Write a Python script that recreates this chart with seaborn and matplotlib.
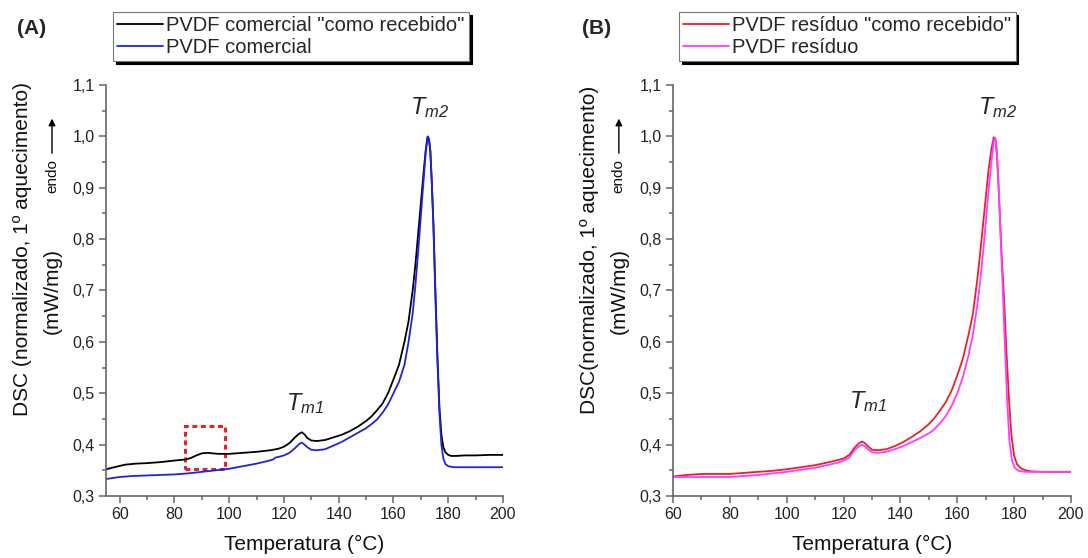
import pandas as pd
import matplotlib.pyplot as plt
import seaborn as sns
from matplotlib.patches import Rectangle
from matplotlib.ticker import MultipleLocator, FuncFormatter

# (A) commercial PVDF, "as received" (black)
temp_com_rec = [55, 58, 62, 66, 70, 75, 80, 84, 86, 88, 90, 92, 94, 96, 100, 105, 110, 115, 118,
                120, 122, 124, 125.5, 126.5, 127.5, 128.5, 130, 132, 135, 138, 141, 144, 147, 150,
                152, 154, 156, 158, 160, 162, 164, 165.5, 167, 168, 169, 170, 171, 171.8, 172.4,
                172.9, 173.4, 174, 174.6, 175.3, 176, 176.8, 177.5, 178.2, 179, 180, 181, 183,
                186, 190, 195, 200]
dsc_com_rec = [0.352, 0.356, 0.361, 0.363, 0.364, 0.366, 0.369, 0.371, 0.374, 0.379, 0.383, 0.384,
               0.383, 0.382, 0.382, 0.384, 0.386, 0.389, 0.392, 0.396, 0.403, 0.414, 0.421, 0.424,
               0.420, 0.413, 0.408, 0.407, 0.409, 0.414, 0.419, 0.426, 0.435, 0.446, 0.455, 0.467,
               0.480, 0.500, 0.527, 0.555, 0.600, 0.640, 0.700, 0.750, 0.810, 0.870, 0.930, 0.975,
               0.998, 0.995, 0.975, 0.910, 0.830, 0.700, 0.580, 0.470, 0.420, 0.395, 0.385, 0.380,
               0.378, 0.378, 0.379, 0.379, 0.380, 0.380]

# (A) commercial PVDF (blue)
temp_com = [55, 60, 65, 70, 75, 80, 85, 90, 95, 100, 105, 110, 114, 116, 117, 118, 120, 122, 124,
            125.5, 126.5, 127.5, 128.5, 130, 132, 135, 138, 141, 144, 147, 150, 152, 154, 156,
            158, 160, 162, 164, 165.5, 167, 168, 169, 170, 171, 171.8, 172.5, 173, 173.5, 174,
            174.6, 175.3, 176, 176.8, 177.5, 178.2, 179, 180, 182, 186, 190, 200]
dsc_com = [0.333, 0.337, 0.339, 0.340, 0.341, 0.342, 0.344, 0.347, 0.350, 0.353, 0.358, 0.363,
           0.368, 0.371, 0.375, 0.376, 0.379, 0.384, 0.393, 0.401, 0.404, 0.400, 0.395, 0.390,
           0.389, 0.391, 0.398, 0.405, 0.414, 0.423, 0.432, 0.440, 0.449, 0.462, 0.478, 0.500,
           0.522, 0.555, 0.600, 0.655, 0.710, 0.775, 0.845, 0.915, 0.970, 1.000, 0.995, 0.970,
           0.910, 0.820, 0.690, 0.570, 0.460, 0.400, 0.373, 0.362, 0.358, 0.356, 0.356, 0.356,
           0.356]

# (B) PVDF waste, "as received" (red)
temp_res_rec = [60, 65, 70, 75, 80, 85, 90, 95, 100, 105, 110, 115, 118, 120, 122, 124, 125.5,
                126.5, 127.5, 128.5, 130, 132, 135, 138, 141, 144, 147, 150, 152, 154, 156, 158,
                160, 162, 164, 165.5, 167, 168, 169, 170, 171, 172, 172.8, 173.4, 174, 174.7,
                175.5, 176.5, 177.3, 178.2, 179, 180, 181, 182.4, 184, 186, 190, 200]
dsc_res_rec = [0.338, 0.341, 0.343, 0.343, 0.343, 0.345, 0.347, 0.349, 0.352, 0.356, 0.360, 0.366,
               0.370, 0.373, 0.380, 0.395, 0.403, 0.406, 0.403, 0.397, 0.390, 0.389, 0.391, 0.397,
               0.405, 0.415, 0.426, 0.440, 0.452, 0.467, 0.483, 0.505, 0.535, 0.568, 0.615, 0.655,
               0.720, 0.770, 0.825, 0.880, 0.935, 0.975, 0.998, 0.995, 0.960, 0.880, 0.780, 0.680,
               0.580, 0.487, 0.420, 0.378, 0.362, 0.354, 0.350, 0.348, 0.347, 0.347]

# (B) PVDF waste (magenta)
temp_res = [60, 65, 70, 75, 80, 85, 90, 95, 100, 105, 110, 115, 118, 120, 122, 124, 125.5, 126.5,
            127.5, 128.5, 130, 132, 135, 138, 141, 144, 147, 150, 152, 154, 156, 158, 160, 162,
            164, 165.5, 167, 168, 169, 170, 171, 172, 172.8, 173.3, 173.8, 174.4, 175, 175.8,
            176.7, 177.5, 178.3, 179.2, 180.2, 181.5, 184, 190, 200]
dsc_res = [0.337, 0.337, 0.337, 0.337, 0.337, 0.339, 0.341, 0.344, 0.347, 0.351, 0.355, 0.361,
           0.365, 0.369, 0.375, 0.390, 0.397, 0.400, 0.397, 0.391, 0.385, 0.384, 0.386, 0.391,
           0.397, 0.405, 0.413, 0.422, 0.430, 0.442, 0.456, 0.475, 0.500, 0.532, 0.575, 0.615,
           0.670, 0.715, 0.770, 0.830, 0.895, 0.950, 0.990, 0.998, 0.980, 0.920, 0.840, 0.730,
           0.600, 0.490, 0.410, 0.370, 0.355, 0.349, 0.347, 0.347, 0.347]

labels_a = ['PVDF comercial "como recebido"', "PVDF comercial"]
labels_b = ['PVDF resíduo "como recebido"', "PVDF resíduo"]
colors_a = ["black", "#2222dd"]
colors_b = ["#e4222c", "#ff3cff"]

# dashed box highlighting the small event near 90 °C
box_x = (84, 98.5)
box_y = (0.352, 0.437)

sns.set_style("ticks")
plt.rcParams["font.family"] = ["Liberation Sans", "DejaVu Sans"]
plt.rcParams["mathtext.fontset"] = "custom"
plt.rcParams["mathtext.it"] = "Liberation Sans:italic"
plt.rcParams["mathtext.rm"] = "Liberation Sans:italic"

W, H = 1088, 558
fig = plt.figure(figsize=(W / 100, H / 100), dpi=100)
ax_a = fig.add_axes([106 / W, 1 - 496 / H, 397 / W, 411 / H])
ax_b = fig.add_axes([673 / W, 1 - 496 / H, 398 / W, 411 / H])

comma = FuncFormatter(lambda v, _: f"{v:.1f}".replace(".", ","))


def draw_panel(ax, series, labels, colors, xlim, dsc_label, legend_x, tag, tag_x, tm1, tm2):
    for (t, d), lab, c in zip(series, labels, colors):
        sns.lineplot(x=t, y=d, ax=ax, color=c, label=lab, lw=1.3, sort=False, estimator=None)

    ax.set_xlim(*xlim)
    ax.set_ylim(0.3, 1.1)
    ax.xaxis.set_major_locator(MultipleLocator(20))
    ax.xaxis.set_minor_locator(MultipleLocator(10))
    ax.yaxis.set_major_locator(MultipleLocator(0.1))
    ax.yaxis.set_minor_locator(MultipleLocator(0.05))
    ax.yaxis.set_major_formatter(comma)
    ax.tick_params(which="major", direction="out", length=5, width=1.1, color="#666666",
                   labelsize=11.5, labelcolor="#222222", pad=3)
    ax.tick_params(which="minor", direction="out", length=3, width=1.1, color="#666666")
    sns.despine(ax=ax)
    for s in ["left", "bottom"]:
        ax.spines[s].set_color("#666666")
        ax.spines[s].set_linewidth(1.2)

    ax.set_xlabel("Temperatura (°C)", fontsize=15, labelpad=9, color="#111111")
    ax.set_ylabel("")

    # two-line y label with the "endo" arrow
    tr = ax.get_yaxis_transform()
    ax.text(-0.21, 0.78, dsc_label, transform=tr, rotation=90, ha="center", va="center",
            fontsize=15, color="#111111")
    ax.text(-0.136, 0.70, "(mW/mg)", transform=tr, rotation=90, ha="center", va="center",
            fontsize=15, color="#111111")
    ax.text(-0.136, 0.922, "endo", transform=tr, rotation=90, ha="center", va="center",
            fontsize=11, color="#111111")
    ax.annotate("", xy=(-0.136, 1.04), xytext=(-0.136, 0.962), xycoords=tr, textcoords=tr,
                arrowprops=dict(arrowstyle="-|>", color="black", lw=1, mutation_scale=10),
                annotation_clip=False)

    ax.text(tm1[0], tm1[1], r"$T_{m1}$", fontsize=17, ha="center", va="center")
    ax.text(tm2[0], tm2[1], r"$T_{m2}$", fontsize=17, ha="center", va="center")

    leg = ax.legend(loc="upper left", bbox_to_anchor=(legend_x / W, 1 - 12 / H),
                    bbox_transform=fig.transFigure, fontsize=14.5, frameon=True, fancybox=False,
                    shadow={"color": "black", "alpha": 1}, framealpha=1, handlelength=2.3,
                    handletextpad=0.15, labelspacing=0.15, borderpad=0.2, borderaxespad=0)
    leg.get_frame().set_edgecolor("#777777")
    leg.get_frame().set_linewidth(0.8)

    fig.text(tag_x / W, 1 - 28 / H, tag, fontsize=15, fontweight="bold", ha="center",
             va="center")


draw_panel(ax_a, [(temp_com_rec, dsc_com_rec), (temp_com, dsc_com)], labels_a, colors_a,
           (55, 200), "DSC (normalizado, 1º aquecimento)", 113, "(A)", 32,
           (127.7, 0.479), (173.3, 1.057))
draw_panel(ax_b, [(temp_res_rec, dsc_res_rec), (temp_res, dsc_res)], labels_b, colors_b,
           (60, 200), "DSC(normalizado, 1º aquecimento)", 679, "(B)", 597,
           (128.6, 0.484), (174.0, 1.057))

ax_a.add_patch(Rectangle((box_x[0], box_y[0]), box_x[1] - box_x[0], box_y[1] - box_y[0],
                         fill=False, ec="#e4222c", lw=2.2, ls=(0, (1.6, 1.2))))

fig.savefig("out.png", dpi=100)
